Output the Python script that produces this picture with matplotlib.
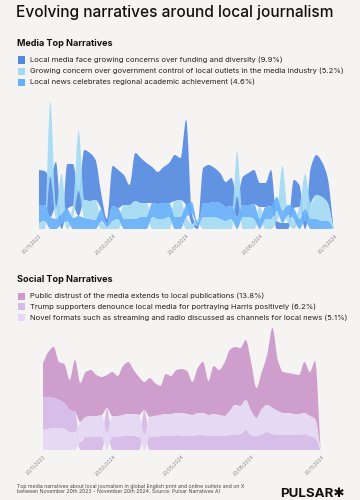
import numpy as np
import pandas as pd
import matplotlib
matplotlib.use('Agg')
import matplotlib.pyplot as plt
import matplotlib.dates as mdates
from matplotlib.patches import Rectangle, PathPatch
from matplotlib.path import Path

#### DATA ####
dates = pd.date_range('2023-11-20', periods=53, freq='7D')
tick_dates = pd.to_datetime(['2023-11-20', '2024-02-20', '2024-05-20', '2024-08-20', '2024-11-20'])
tick_labels = ['20/11/2023', '20/02/2024', '20/05/2024', '20/08/2024', '20/11/2024']

media_names = ["Local media face growing concerns over funding and diversity (9.9%)",
               "Growing concern over government control of local outlets in the media industry (5.2%)",
               "Local news celebrates regional academic achievement (4.6%)"]
media_funding = [35, 34, 40, 45, 5, 45, 42, 25, 50, 48, 40, 15, 5, 40, 38, 30, 20, 48, 45, 40, 36, 32, 36, 40, 46, 42,
                 85, 10, 3, 35, 38, 34, 30, 25, 28, 20, 28, 32, 34, 24, 24, 36, 8, 6, 6, 28, 22, 8, 35, 40, 35, 25, 1]
media_control = [6, 8, 75, 12, 40, 8, 12, 60, 18, 18, 20, 8, 2, 8, 10, 14, 14, 18, 14, 14, 12, 10, 10, 12, 16, 17,
                 12, 5, 4, 12, 12, 12, 10, 8, 10, 45, 12, 12, 10, 12, 10, 10, 10, 45, 8, 10, 12, 35, 16, 24, 24, 18, 0.5]
media_academic = [18, 16, 12, 10, 10, 12, 11, 13, 11, 10, 9, 12, 3, 15, 11, 10, 10, 10, 12, 12, 14, 15, 16, 14, 12, 12,
                  12, 12, 3, 14, 14, 15, 16, 14, 13, 12, 12, 12, 15, 10, 12, 13, 14, 12, 10, 11, 10, 12, 10, 10, 8, 8, 0.5]

social_names = ["Public distrust of the media extends to local publications (13.8%)",
                "Trump supporters denounce local media for portraying Harris positively (6.2%)",
                "Novel formats such as streaming and radio discussed as channels for local news (5.1%)"]
social_distrust = [34, 45, 51, 38, 39, 30, 52, 39, 45, 46, 41, 38, 33, 44, 40, 49, 52, 44, 38, 28, 39, 33, 29, 40, 38, 43,
                   44, 43, 33, 45, 51, 34, 48, 45, 53, 61, 58, 58, 60, 49, 30, 37, 50, 80, 51, 41, 40, 40, 39, 51, 44, 58, 1]
social_trump = [33, 32, 30, 28, 26, 22, 20, 8, 13, 13, 13, 13, 24, 13, 13, 14, 14, 14, 13, 24, 13, 13, 14, 14, 14, 15,
                14, 14, 14, 15, 15, 14, 14, 14, 14, 15, 15, 16, 20, 15, 14, 16, 18, 16, 15, 15, 15, 15, 15, 16, 14, 12, 0.5]
social_novel = [20, 21, 22, 22, 21, 18, 18, 20, 20, 21, 21, 22, 18, 21, 21, 21, 22, 22, 22, 16, 20, 21, 21, 22, 22, 22,
                23, 22, 21, 22, 22, 21, 22, 21, 20, 24, 30, 28, 30, 24, 18, 25, 27, 26, 24, 22, 22, 21, 21, 21, 20, 19, 0.5]

BG = "#f5f4f2"
media_colors = ["#5289e2", "#a2daf4", "#64b0fa"]
social_colors = ["#cc9bcb", "#d6bbe8", "#e6d8f4"]


def monotone_segments(x, y):
    # bezier control points for a monotone cubic curve through (x, y)
    n = len(x)
    h = np.diff(x)
    d = np.diff(y) / h
    m = np.zeros(n)
    for i in range(1, n - 1):
        if d[i - 1] * d[i] > 0:
            m[i] = 3 * (h[i - 1] + h[i]) / ((2 * h[i] + h[i - 1]) / d[i - 1] + (h[i] + 2 * h[i - 1]) / d[i])
    m[0] = d[0]
    m[-1] = d[-1]
    segs = []
    for i in range(n - 1):
        c1 = (x[i] + h[i] / 3, y[i] + m[i] * h[i] / 3)
        c2 = (x[i + 1] - h[i] / 3, y[i + 1] - m[i + 1] * h[i] / 3)
        segs.append((c1, c2, (x[i + 1], y[i + 1])))
    return segs


def smooth_band(ax, x, lo, hi, color, alpha):
    verts = [(x[0], hi[0])]
    codes = [Path.MOVETO]
    for c1, c2, p in monotone_segments(x, hi):
        verts += [c1, c2, p]
        codes += [Path.CURVE4] * 3
    verts.append((x[-1], lo[-1]))
    codes.append(Path.LINETO)
    for c1, c2, p in monotone_segments(x[::-1], lo[::-1]):
        verts += [c1, c2, p]
        codes += [Path.CURVE4] * 3
    verts.append((x[0], hi[0]))
    codes.append(Path.CLOSEPOLY)
    ax.add_patch(PathPatch(Path(verts, codes), facecolor=color, alpha=alpha, lw=0))


def sorted_stack(ax, series, colors, alpha):
    vals = np.array(series, dtype=float)
    x = mdates.date2num(dates)
    # smallest at the bottom at every point
    order = np.argsort(vals, axis=0)
    lower = np.zeros_like(vals)
    run = np.zeros(vals.shape[1])
    cols = np.arange(vals.shape[1])
    for k in range(vals.shape[0]):
        idx = order[k]
        lower[idx, cols] = run
        run = run + vals[idx, cols]
    for s in range(vals.shape[0]):
        smooth_band(ax, x, lower[s], lower[s] + vals[s], colors[s], alpha)


def style_axis(ax, top):
    ax.set_facecolor(BG)
    ax.set_ylim(0, top)
    ax.set_xlim(dates[0], pd.Timestamp('2024-11-20'))
    for sp in ax.spines.values():
        sp.set_visible(False)
    ax.set_yticks([])
    ax.xaxis_date()
    ax.set_xticks(tick_dates)
    ax.set_xticklabels(tick_labels, rotation=45, ha='right', rotation_mode='anchor',
                       fontsize=3.5, color="#8a8a8a")
    ax.tick_params(axis='x', length=0, pad=3)


def legend(names, colors, ys):
    for name, c, y in zip(names, colors, ys):
        fig.add_artist(Rectangle((18 / 360, 1 - (y + 3.5) / 500), 7 / 360, 7 / 500,
                                 transform=fig.transFigure, color=c, lw=0))
        fig.text(30 / 360, 1 - y / 500, name, fontsize=5.5, va='center', color="#222222")


plt.rcParams['font.family'] = ['Inter', 'DejaVu Sans']

fig = plt.figure(figsize=(3.6, 5.0), dpi=100)
fig.set_facecolor(BG)

fig.text(16 / 360, 1 - 12 / 500, "Evolving narratives around local journalism", ha='left', va='center',
         fontsize=11.15, fontweight='medium', color="#111111")

# MEDIA
fig.text(17 / 360, 1 - 44 / 500, "Media Top Narratives", fontsize=6.5, fontweight='bold', va='center', color="#111111")
legend(media_names, media_colors, [60, 71, 82])
ax1 = fig.add_axes([39 / 360, 1 - 229 / 500, 296 / 360, 134 / 500])
sorted_stack(ax1, [media_funding, media_control, media_academic], media_colors, 0.9)
style_axis(ax1, 134)

# SOCIAL
fig.text(17 / 360, 1 - 279 / 500, "Social Top Narratives", fontsize=6.5, fontweight='bold', va='center', color="#111111")
legend(social_names, social_colors, [296, 306.5, 317.5])
ax2 = fig.add_axes([43 / 360, 1 - 450 / 500, 279 / 360, 130 / 500])
sorted_stack(ax2, [social_distrust, social_trump, social_novel], social_colors, 0.95)
style_axis(ax2, 130)

# FOOTER
fig.text(17 / 360, 1 - 489 / 500,
         "Top media narratives about local journalism in global English print and online outlets and on X\n"
         "between November 20th 2023 - November 20th 2024. Source: Pulsar Narratives AI",
         fontsize=3.7, va='center', color="#444444", linespacing=1.1)
fig.text(345 / 360, 1 - 494 / 500, "PULSAR\u2731", fontsize=9.6, fontweight='bold', ha='right', va='center',
         color="#111111")

fig.savefig("out.png", dpi=100, facecolor=BG)
